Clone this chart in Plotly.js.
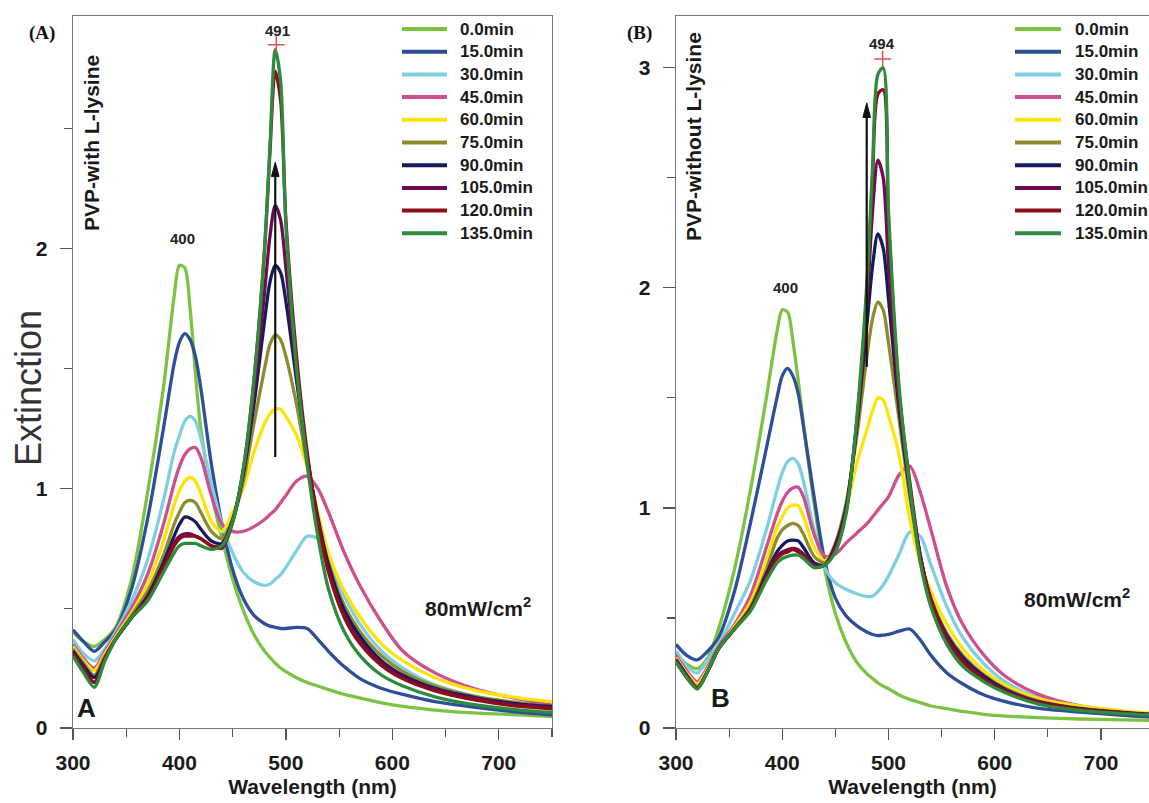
<!DOCTYPE html>
<html>
<head>
<meta charset="utf-8">
<script src="https://cdn.plot.ly/plotly-3.0.1.min.js"></script>
<style>html,body{margin:0;padding:0;background:#fff}#chart{width:1149px;height:803px}</style>
</head>
<body>
<div id="chart"></div>
<script>
// ---------- data ----------
const wavelengths = [300,310,320,330,340,355,370,385,395,400,405,410,415,420,430,440,450,460,470,480,485,490,495,500,510,520,530,540,555,570,590,610,640,680,720,750];

const seriesNames = ['0.0min','15.0min','30.0min','45.0min','60.0min','75.0min','90.0min','105.0min','120.0min','135.0min'];
const seriesColors = ['#7cc243','#2d4f98','#7fcfe2','#cf4f8e','#fbe40a','#8e8b2e','#161a5c','#6c0c52','#8d0d18','#2e8a3c'];

// Panel A: PVP with L-lysine
const a_0   = [0.40,0.36,0.34,0.37,0.42,0.62,0.98,1.42,1.80,1.93,1.92,1.75,1.48,1.25,0.98,0.79,0.62,0.49,0.39,0.32,0.295,0.27,0.25,0.235,0.21,0.19,0.175,0.16,0.14,0.125,0.105,0.09,0.075,0.062,0.055,0.048];
const a_15  = [0.41,0.36,0.32,0.36,0.41,0.58,0.87,1.25,1.52,1.61,1.645,1.62,1.55,1.42,1.10,0.85,0.66,0.54,0.47,0.435,0.425,0.42,0.415,0.415,0.42,0.415,0.37,0.32,0.255,0.205,0.165,0.14,0.11,0.085,0.065,0.055];
const a_30  = [0.37,0.31,0.28,0.33,0.40,0.53,0.70,0.95,1.15,1.22,1.28,1.30,1.28,1.21,1.02,0.85,0.73,0.65,0.61,0.595,0.60,0.62,0.64,0.67,0.74,0.80,0.79,0.70,0.55,0.43,0.32,0.25,0.18,0.13,0.10,0.08];
const a_45  = [0.35,0.29,0.25,0.32,0.39,0.50,0.64,0.85,1.02,1.09,1.14,1.165,1.17,1.13,0.97,0.85,0.82,0.82,0.84,0.87,0.89,0.91,0.94,0.97,1.03,1.05,1.00,0.90,0.73,0.59,0.44,0.32,0.23,0.16,0.12,0.095];
const a_60  = [0.34,0.28,0.24,0.31,0.38,0.48,0.60,0.78,0.93,0.99,1.03,1.045,1.03,0.98,0.86,0.82,0.90,1.00,1.15,1.27,1.31,1.33,1.33,1.30,1.22,1.09,0.90,0.73,0.57,0.46,0.35,0.28,0.21,0.155,0.125,0.11];
const a_75  = [0.33,0.27,0.22,0.30,0.37,0.47,0.57,0.72,0.85,0.90,0.94,0.95,0.94,0.90,0.82,0.79,0.87,1.03,1.27,1.50,1.60,1.64,1.62,1.55,1.35,1.10,0.87,0.69,0.51,0.40,0.30,0.235,0.175,0.13,0.105,0.09];
const a_90  = [0.32,0.26,0.21,0.29,0.37,0.46,0.55,0.69,0.80,0.85,0.88,0.875,0.86,0.83,0.78,0.77,0.87,1.06,1.35,1.70,1.86,1.93,1.90,1.78,1.45,1.13,0.88,0.68,0.49,0.38,0.28,0.22,0.165,0.125,0.10,0.09];
const a_105 = [0.31,0.25,0.19,0.29,0.37,0.46,0.54,0.67,0.77,0.80,0.81,0.81,0.80,0.79,0.76,0.76,0.86,1.07,1.40,1.82,2.05,2.18,2.12,1.92,1.48,1.13,0.86,0.66,0.47,0.36,0.27,0.21,0.16,0.12,0.095,0.085];
const a_120 = [0.31,0.24,0.19,0.29,0.37,0.46,0.54,0.67,0.76,0.79,0.80,0.80,0.80,0.79,0.76,0.75,0.86,1.08,1.45,2.00,2.40,2.74,2.62,2.12,1.55,1.15,0.86,0.65,0.46,0.35,0.26,0.205,0.155,0.115,0.09,0.08];
const a_135 = [0.30,0.23,0.17,0.28,0.37,0.46,0.53,0.65,0.73,0.76,0.77,0.77,0.77,0.76,0.745,0.76,0.86,1.08,1.45,2.00,2.42,2.83,2.70,2.10,1.50,1.10,0.80,0.58,0.40,0.30,0.22,0.175,0.13,0.095,0.075,0.065];

// Panel B: PVP without L-lysine
const b_0   = [0.34,0.29,0.27,0.32,0.45,0.72,1.08,1.50,1.80,1.90,1.89,1.76,1.58,1.38,1.02,0.72,0.52,0.39,0.30,0.245,0.225,0.205,0.19,0.178,0.15,0.13,0.115,0.10,0.088,0.075,0.062,0.054,0.047,0.041,0.037,0.035];
const b_15  = [0.38,0.33,0.31,0.35,0.41,0.62,0.93,1.27,1.50,1.60,1.634,1.60,1.52,1.37,1.05,0.76,0.59,0.51,0.465,0.435,0.425,0.42,0.422,0.425,0.44,0.45,0.40,0.33,0.25,0.20,0.15,0.12,0.09,0.072,0.058,0.05];
const b_30  = [0.35,0.28,0.25,0.31,0.38,0.52,0.67,0.90,1.08,1.16,1.21,1.225,1.20,1.12,0.90,0.73,0.66,0.63,0.61,0.597,0.60,0.62,0.65,0.69,0.79,0.89,0.87,0.74,0.55,0.41,0.29,0.21,0.14,0.10,0.075,0.062];
const b_45  = [0.33,0.26,0.21,0.28,0.37,0.47,0.60,0.82,0.97,1.03,1.07,1.09,1.094,1.05,0.88,0.78,0.79,0.84,0.885,0.93,0.96,0.99,1.02,1.05,1.15,1.19,1.07,0.90,0.64,0.47,0.33,0.235,0.155,0.10,0.075,0.06];
const b_60  = [0.32,0.25,0.20,0.27,0.36,0.46,0.57,0.76,0.91,0.96,1.00,1.013,1.01,0.96,0.82,0.76,0.83,0.99,1.20,1.36,1.44,1.50,1.49,1.42,1.24,0.95,0.75,0.62,0.47,0.36,0.26,0.195,0.135,0.10,0.078,0.066];
const b_75  = [0.31,0.24,0.19,0.26,0.36,0.45,0.55,0.72,0.86,0.90,0.92,0.93,0.92,0.88,0.78,0.75,0.84,1.02,1.32,1.70,1.86,1.935,1.90,1.75,1.40,1.05,0.77,0.59,0.43,0.33,0.24,0.18,0.125,0.09,0.072,0.062];
const b_90  = [0.31,0.24,0.18,0.26,0.36,0.45,0.54,0.70,0.80,0.83,0.85,0.854,0.85,0.82,0.75,0.74,0.83,1.00,1.36,1.85,2.10,2.245,2.18,1.95,1.45,1.08,0.78,0.58,0.42,0.32,0.235,0.175,0.12,0.088,0.07,0.06];
const b_105 = [0.31,0.24,0.18,0.26,0.36,0.45,0.54,0.69,0.78,0.80,0.81,0.816,0.81,0.79,0.74,0.74,0.82,0.99,1.38,1.95,2.35,2.58,2.50,2.10,1.48,1.10,0.78,0.58,0.41,0.31,0.225,0.17,0.12,0.087,0.07,0.06];
const b_120 = [0.30,0.23,0.18,0.26,0.36,0.45,0.54,0.68,0.77,0.79,0.80,0.81,0.80,0.78,0.73,0.74,0.81,0.98,1.38,2.00,2.50,2.88,2.90,2.30,1.52,1.12,0.78,0.58,0.40,0.30,0.22,0.165,0.115,0.085,0.068,0.06];
const b_135 = [0.30,0.23,0.177,0.26,0.36,0.45,0.53,0.67,0.75,0.77,0.78,0.785,0.786,0.77,0.73,0.74,0.80,0.97,1.40,2.05,2.55,2.97,3.00,2.35,1.55,1.10,0.75,0.55,0.38,0.28,0.21,0.16,0.11,0.08,0.065,0.058];

// peak markers and labels
const peakA = {x: [491], y: [2.85]};
const peakB = {x: [494.5], y: [3.04]};
const bandLabelsA = [{text:'400', x:403, y:2.04}, {text:'491', x:492, y:2.91}];
const bandLabelsB = [{text:'400', x:403.5, y:2.0}, {text:'494', x:494, y:3.11}];
// growth arrows (wavelength, from, to)
const arrowA = {x:490, from:1.13, to:2.36};
const arrowB = {x:479.5, from:1.64, to:2.84};

const xTicks = [300,400,500,600,700];
const xMinor = [350,450,550,650,750];

// ---------- build ----------
const SANS = 'Liberation Sans, Arial, Helvetica, sans-serif';
const SERIF = 'Liberation Serif, Times New Roman, serif';
const seriesA = [a_0,a_15,a_30,a_45,a_60,a_75,a_90,a_105,a_120,a_135];
const seriesB = [b_0,b_15,b_30,b_45,b_60,b_75,b_90,b_105,b_120,b_135];

const traces = [];
seriesA.forEach((ys,i)=>traces.push({x:wavelengths,y:ys,xaxis:'x',yaxis:'y',type:'scatter',mode:'lines',name:seriesNames[i],showlegend:false,line:{color:seriesColors[i],width:3.3,shape:'spline',smoothing:0.8}}));
seriesB.forEach((ys,i)=>traces.push({x:wavelengths,y:ys,xaxis:'x2',yaxis:'y2',type:'scatter',mode:'lines',name:seriesNames[i],showlegend:false,line:{color:seriesColors[i],width:3.3,shape:'spline',smoothing:0.8}}));
traces.push({x:peakA.x,y:peakA.y,xaxis:'x',yaxis:'y',mode:'markers',showlegend:false,marker:{symbol:'cross-thin',size:12,line:{color:'#d9534f',width:1.5}}});
traces.push({x:peakB.x,y:peakB.y,xaxis:'x2',yaxis:'y2',mode:'markers',showlegend:false,marker:{symbol:'cross-thin',size:12,line:{color:'#d9534f',width:1.5}}});

const W = 1149, H = 803;
const px = v => v / W, py = v => 1 - v / H;

const tickFont = {family:SANS,size:21,color:'#1a1a1a',weight:'bold'};
function xAxis(domain, range, anchor){
  return {domain, range, anchor, tickvals:xTicks, ticks:'outside', ticklen:11, tickwidth:1.3, tickcolor:'#555',
    showline:true, linecolor:'#777', linewidth:1.3, mirror:true, showgrid:false, zeroline:false,
    tickfont:tickFont, ticklabelstandoff:4,
    minor:{tickvals:xMinor, ticks:'outside', ticklen:8, tickwidth:1.2, tickcolor:'#555'},
    title:{text:'Wavelength (nm)', font:{family:SANS,size:21,color:'#1a1a1a',weight:'bold'}, standoff:6}};
}
function yAxis(domain, range, anchor, vals, mirror){
  return {domain, range, anchor, tickvals:vals, ticks:'outside', ticklen:12, tickwidth:1.3, tickcolor:'#555',
    showline:true, linecolor:'#777', linewidth:1.3, mirror:mirror, showgrid:false, zeroline:false,
    tickfont:tickFont, ticklabelstandoff:8,
    minor:{tickvals:[0.5,1.5,2.5], ticks:'outside', ticklen:8, tickwidth:1.2, tickcolor:'#555'}};
}

const yDom = [1 - 728/H, 1 - 16/H];
const layout = {
  width:W, height:H, margin:{l:0,r:0,t:0,b:0}, paper_bgcolor:'#ffffff', plot_bgcolor:'#ffffff',
  showlegend:false,
  xaxis: xAxis([px(73), px(552)], [300,750], 'y'),
  yaxis: yAxis(yDom, [0,2.97], 'x', [0,1,2], true),
  xaxis2: xAxis([px(676), 1], [300, 300 + (W-676)/1.0625], 'y2'),
  yaxis2: yAxis(yDom, [0,3.235], 'x2', [0,1,2,3], false),
  shapes: [], annotations: []
};

// band labels
bandLabelsA.forEach(b=>layout.annotations.push({xref:'x',yref:'y',x:b.x,y:b.y,text:b.text,showarrow:false,font:{family:SANS,size:15,color:'#222',weight:'bold'}}));
bandLabelsB.forEach(b=>layout.annotations.push({xref:'x2',yref:'y2',x:b.x,y:b.y,text:b.text,showarrow:false,font:{family:SANS,size:15,color:'#222',weight:'bold'}}));

// arrows as shapes (shaft + head)
function arrow(a, xr, yr, headW, headH){
  layout.shapes.push({type:'line',xref:xr,yref:yr,x0:a.x,x1:a.x,y0:a.from,y1:a.to-headH*0.6,line:{color:'#111',width:2.2}});
  layout.shapes.push({type:'path',xref:xr,yref:yr,path:`M${a.x-headW},${a.to-headH} L${a.x},${a.to} L${a.x+headW},${a.to-headH} Z`,fillcolor:'#111',line:{color:'#111',width:1}});
}
arrow(arrowA,'x','y',3.6,0.06);
arrow(arrowB,'x2','y2',3.6,0.066);

// panel texts
const txt = (x,y,text,font,extra)=>Object.assign({xref:'paper',yref:'paper',x:px(x),y:py(y),text,showarrow:false,xanchor:'center',yanchor:'middle',font},extra||{});
layout.annotations.push(txt(29,388,'Extinction',{family:SANS,size:36,color:'#333'},{textangle:-90}));
layout.annotations.push(txt(42,33,'(A)',{family:SERIF,size:19,color:'#111',weight:'bold'}));
layout.annotations.push(txt(639,33,'(B)',{family:SERIF,size:19,color:'#111',weight:'bold'}));
layout.annotations.push(txt(91,143,'PVP-with L-lysine',{family:SANS,size:21,color:'#1a1a1a',weight:'bold'},{textangle:-90}));
layout.annotations.push(txt(693,137,'PVP-without L-lysine',{family:SANS,size:21,color:'#1a1a1a',weight:'bold'},{textangle:-90}));
layout.annotations.push(txt(478,607,'80mW/cm<sup>2</sup>',{family:SANS,size:21,color:'#1a1a1a',weight:'bold'}));
layout.annotations.push(txt(1077,598,'80mW/cm<sup>2</sup>',{family:SANS,size:21,color:'#1a1a1a',weight:'bold'}));
layout.annotations.push(txt(86,708,'A',{family:SANS,size:26,color:'#1a1a1a',weight:'bold'}));
layout.annotations.push(txt(720,698,'B',{family:SANS,size:26,color:'#1a1a1a',weight:'bold'}));

// legends (drawn per panel)
function legend(x0, x1, xt){
  seriesNames.forEach((n,i)=>{
    const y = 29 + 22.7*i;
    layout.shapes.push({type:'line',xref:'paper',yref:'paper',x0:px(x0),x1:px(x1),y0:py(y),y1:py(y),line:{color:seriesColors[i],width:4}});
    layout.annotations.push({xref:'paper',yref:'paper',x:px(xt),y:py(y),text:n,showarrow:false,xanchor:'left',yanchor:'middle',font:{family:SANS,size:17,color:'#1a1a1a',weight:'bold'}});
  });
}
legend(402,447,458);
legend(1015,1061,1073);

Plotly.newPlot('chart', traces, layout, {displayModeBar:false, staticPlot:true});
</script>
</body>
</html>
